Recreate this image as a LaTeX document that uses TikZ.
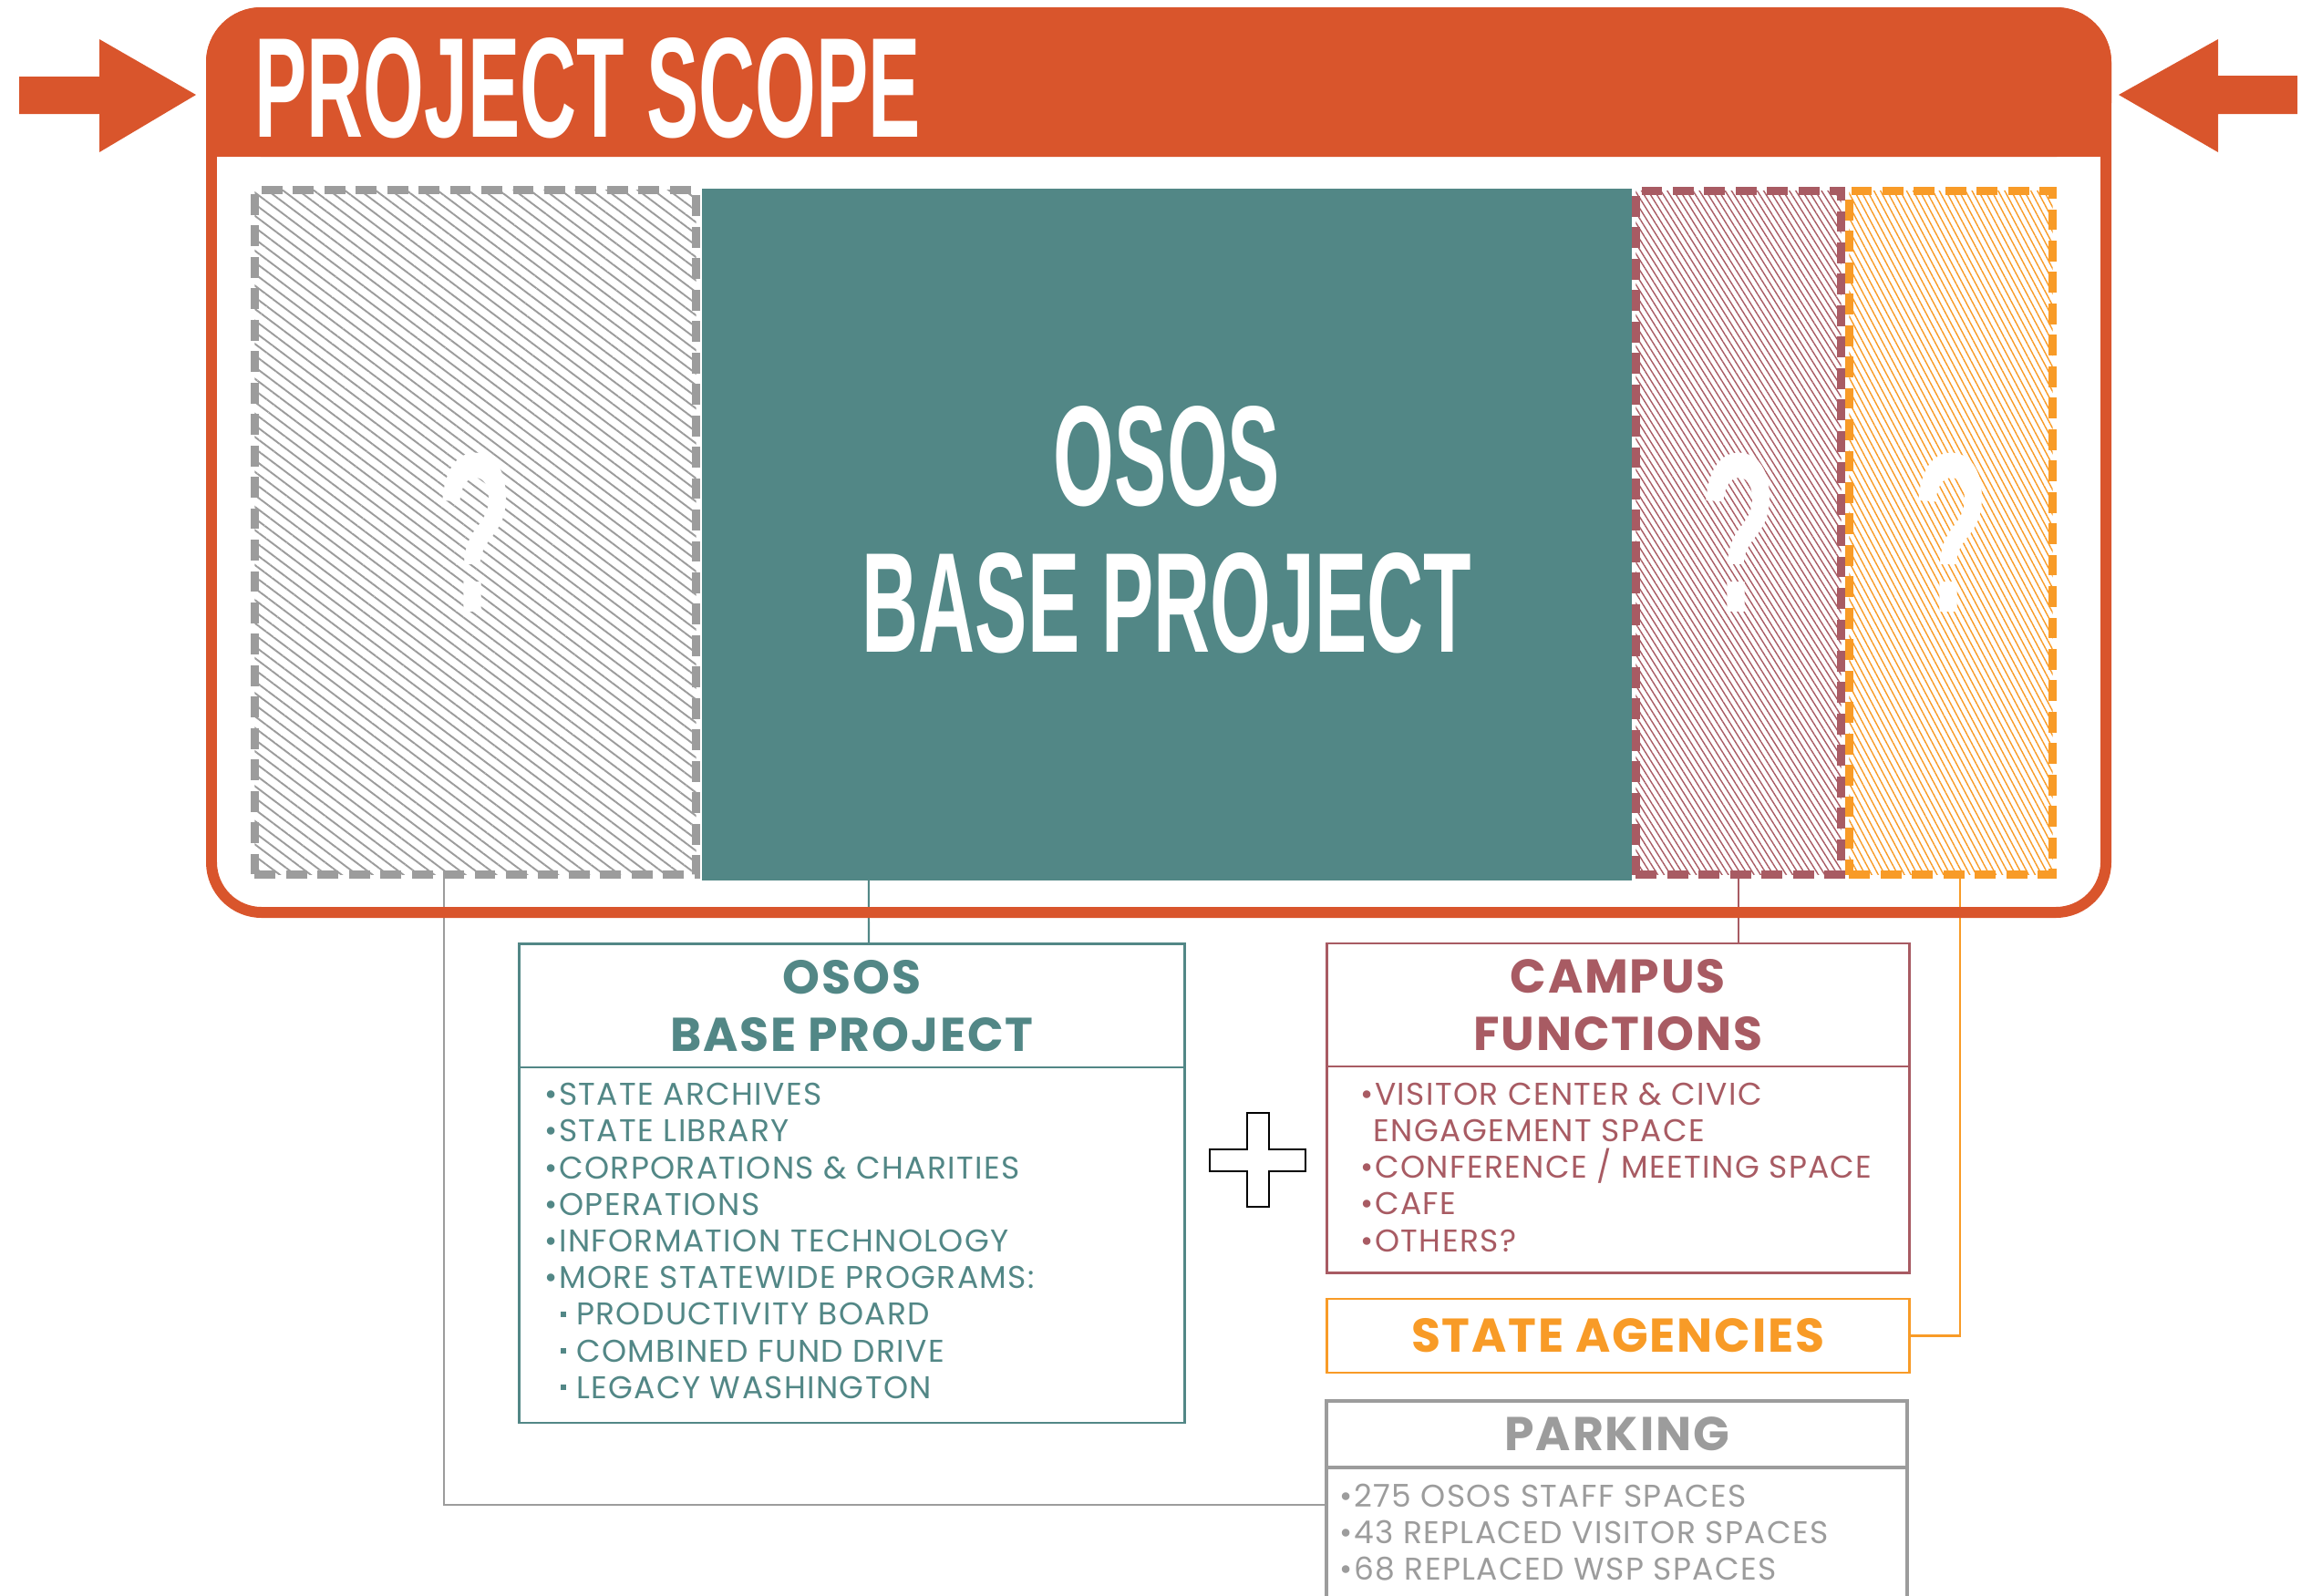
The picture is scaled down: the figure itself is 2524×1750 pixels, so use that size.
\documentclass[tikz,border=0pt]{standalone}
\usepackage{fontspec}
\setmainfont{Poppins}
\newfontfamily\condfont[FakeStretch=0.55]{Liberation Sans}
\usetikzlibrary{patterns.meta,positioning,calc}

\definecolor{scope}{HTML}{D9552C}
\definecolor{baseteal}{HTML}{528786}
\definecolor{campusred}{HTML}{A85B63}
\definecolor{agencyorange}{HTML}{F89B27}
\definecolor{parkgray}{HTML}{9C9C9C}

\newcommand{\sqbul}{\hspace*{0.5em}\raisebox{0.26em}{\rule{0.18em}{0.18em}}\hspace{0.32em}}

\tikzset{
	hatchbox/.style={draw=#1,line width=2.56pt,dash pattern=on 6.5pt off 3.3pt,inner sep=0pt,outer sep=0pt,minimum height=7.5cm},
	qmark/.style={text=white,inner sep=0pt,font=\condfont\bfseries\fontsize{71}{71}\selectfont},
	headbox/.style={draw=#1,text=#1,line width=0.75pt,inner sep=0pt,outer sep=0pt,align=center,font=\bfseries\addfontfeatures{LetterSpace=3.5}\fontsize{14.8}{18}\selectfont},
	listbox/.style={draw=#1,line width=0.75pt,inner sep=0pt,outer sep=0pt},
	items/.style={text=#1,align=left,anchor=north west,inner sep=0pt,font=\addfontfeatures{LetterSpace=4}\fontsize{9.8}{11.44}\selectfont},
	link/.style={draw=#1,line width=0.6pt},
}

\begin{document}
\begin{tikzpicture}[x=0.01cm,y=-0.01cm]
	\useasboundingbox (0,0) rectangle (2524,1750);

	% boxes below the frame
	\node[headbox=baseteal,minimum width=7.29cm,minimum height=1.354cm] (ososhead) at (934.5,1103.3) {OSOS\\BASE PROJECT};
	\node[listbox=baseteal,minimum width=7.29cm,minimum height=3.896cm,below=0pt of ososhead] (ososlist) {};
	\node[headbox=campusred,minimum width=6.385cm,minimum height=1.35cm] (campushead) at (1774.75,1102.5) {CAMPUS\\FUNCTIONS};
	\node[listbox=campusred,minimum width=6.385cm,minimum height=2.26cm,below=0pt of campushead] (campuslist) {};
	\node[headbox=agencyorange,minimum width=6.385cm,minimum height=0.81cm] (agency) at (1774.75,1465.5) {STATE AGENCIES};
	\node[headbox=parkgray,line width=1.1pt,minimum width=6.365cm,minimum height=0.73cm] (parkhead) at (1773.75,1573.5) {PARKING};
	\node[listbox=parkgray,line width=1.1pt,minimum width=6.365cm,minimum height=1.7cm,below=0pt of parkhead] (parklist) {};

	\node[items=baseteal] (osositems) at (597,1187.5) {•STATE ARCHIVES\\•STATE LIBRARY\\•CORPORATIONS \& CHARITIES\\•OPERATIONS\\•INFORMATION TECHNOLOGY\\•MORE STATEWIDE PROGRAMS:\\\sqbul PRODUCTIVITY BOARD\\\sqbul COMBINED FUND DRIVE\\\sqbul LEGACY WASHINGTON};
	\node[items=campusred] (campusitems) at (1492,1187) {•VISITOR CENTER \& CIVIC\\\phantom{•}ENGAGEMENT SPACE\\•CONFERENCE / MEETING SPACE\\•CAFE\\•OTHERS?};
	\node[items=parkgray] (parkitems) at (1469,1627) {•275 OSOS STAFF SPACES\\•43 REPLACED VISITOR SPACES\\•68 REPLACED WSP SPACES};

	% plus
	\draw[line width=0.4pt,fill=white] (1368,1221) -- (1392,1221) -- (1392,1261) -- (1432,1261) -- (1432,1285) -- (1392,1285) -- (1392,1324) -- (1368,1324) -- (1368,1285) -- (1327,1285) -- (1327,1261) -- (1368,1261) -- cycle;

	% inside the scope
	\node[hatchbox=parkgray,minimum width=4.84cm,pattern={Lines[angle=-37,distance=2.9pt,line width=0.55pt]},pattern color=parkgray] (qleft) at (521.5,584) {};
	\node[fill=baseteal,inner sep=0pt,outer sep=0pt,minimum width=10.2cm,minimum height=7.59cm] (base) at (1280,586.5) {};
	\node[hatchbox=campusred,minimum width=2.25cm,pattern={Lines[angle=-58,distance=1.7pt,line width=0.4pt]},pattern color=campusred] (qcampus) at (1907,584.5) {};
	\node[hatchbox=agencyorange,minimum width=2.23cm,pattern={Lines[angle=-62,distance=1.8pt,line width=0.4pt]},pattern color=agencyorange] (qagency) at (2140,584.5) {};

	\draw[link=parkgray] ([xshift=-0.345cm]qleft.south) |- ($(parklist.north west)+(0,41)$);
	\draw[link=baseteal] ([xshift=-3.27cm]base.south) -- (ososhead.north -| 953,0);
	\draw[link=campusred] (qcampus.south) -- (qcampus.south |- campushead.north);
	\draw[link=agencyorange] ([xshift=0.1cm]qagency.south) |- (agency.east);

	\node[qmark] (q1) at (qleft.center) {?};
	\node[qmark] (q2) at (qcampus.center) {?};
	\node[qmark] (q3) at (qagency.center) {?};
	\node[text=white,align=center,inner sep=0pt,font=\condfont\bfseries\fontsize{44.4}{45.8}\selectfont] (basetext) at ([yshift=0.05cm]base.center) {OSOS\\BASE PROJECT};

	% frame and title bar
	\draw[scope,line width=3.41pt,rounded corners=0.55cm] (232,14) rectangle (2310,1001);
	\fill[scope,rounded corners=0.6cm] (226,8) rectangle (2316,172);
	\fill[scope] (226,100) rectangle (2316,172);
	\node[anchor=base west,inner sep=0pt,text=white,font=\condfont\bfseries\fontsize{44.4}{45.8}\selectfont] (scopetitle) at (279,150) {PROJECT SCOPE};

	\fill[scope] (21,84) -- (109,84) -- (109,43) -- (215,104) -- (109,167) -- (109,125) -- (21,125) -- cycle;
	\fill[scope] (2520,83) -- (2433,83) -- (2433,43) -- (2324,104) -- (2433,167) -- (2433,125) -- (2520,125) -- cycle;
\end{tikzpicture}
\end{document}
